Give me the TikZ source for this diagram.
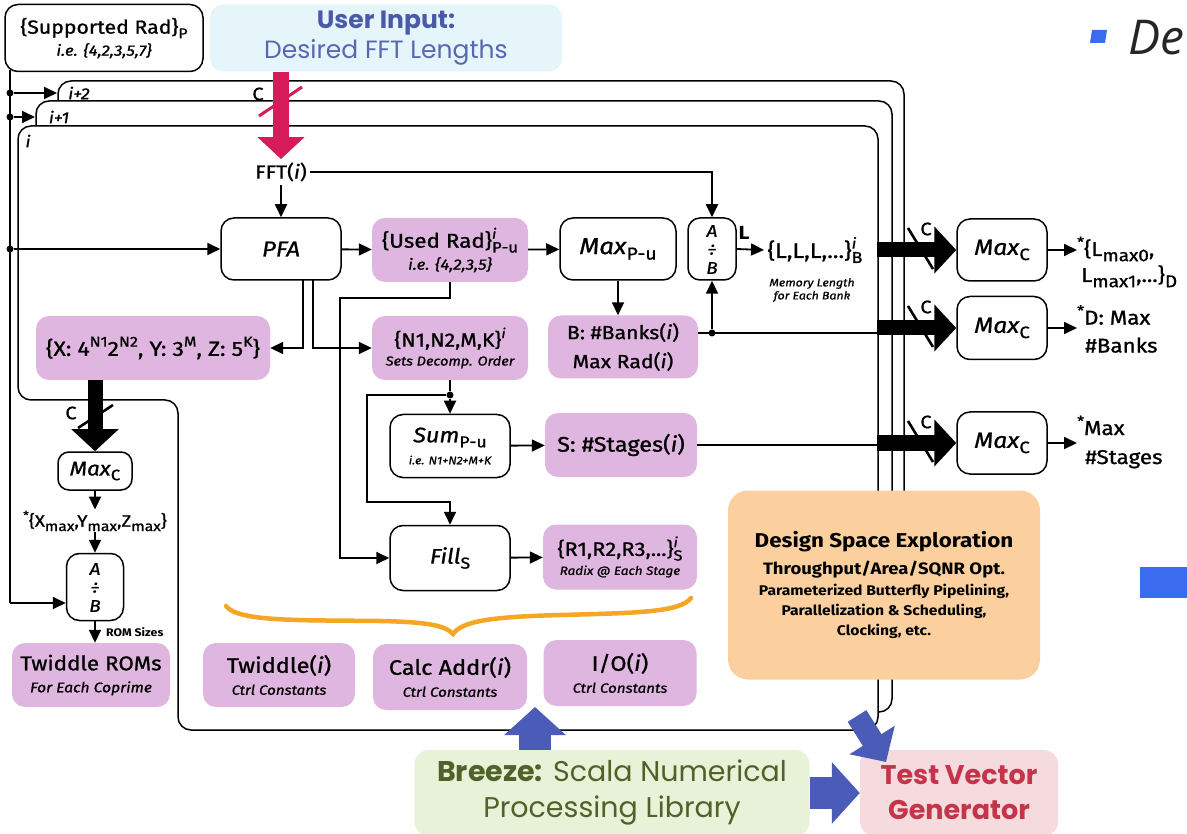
\documentclass[tikz,border=0pt]{standalone}
\usepackage{fontspec}
\usepackage{graphicx}
\setmainfont{Fira Sans}[FakeStretch=1.12,
  UprightFeatures={FakeBold=1}, ItalicFeatures={FakeBold=1}]
\newfontfamily\geo{Poppins}
\newfontfamily\slide{Open Sans}
\usetikzlibrary{arrows.meta,backgrounds}

\definecolor{boxpink}{RGB}{223,182,223}
\definecolor{inblue}{RGB}{230,245,250}
\definecolor{intext}{RGB}{75,90,168}
\definecolor{intextl}{RGB}{88,104,176}
\definecolor{crim}{RGB}{214,26,90}
\definecolor{bracec}{RGB}{245,166,35}
\definecolor{dse}{RGB}{251,208,158}
\definecolor{brz}{RGB}{232,242,216}
\definecolor{brztext}{RGB}{80,98,42}
\definecolor{tvg}{RGB}{245,218,222}
\definecolor{tvgtext}{RGB}{196,52,74}
\definecolor{flowblue}{RGB}{74,92,184}
\definecolor{bullet}{RGB}{59,108,240}

% small raised / lowered indices in text
\newcommand\dn[1]{\raisebox{-0.45ex}{\scalebox{0.75}{#1}}}
\newcommand\dnb[1]{\raisebox{-0.5ex}{\scalebox{0.85}{#1}}}
\newcommand\up[1]{\raisebox{0.85ex}{\scalebox{0.7}{#1}}}
\newcommand\ud[2]{\makebox[0pt][l]{\up{#1}}\dn{#2}}
\newcommand\fs[2]{\fontsize{#1}{#2}\selectfont}

\begin{document}
\begin{tikzpicture}[x=1pt,y=-1pt,
  wbox/.style={draw, line width=1.5pt, fill=white, rounded corners=13pt, inner sep=0pt, align=center},
  pbox/.style={fill=boxpink, rounded corners=13pt, inner sep=0pt, align=center},
  conn/.style={line width=1.8pt},
  arr/.style={conn, -{Triangle[length=13pt,width=12pt]}},
  bus/.style={line width=15pt, -{Triangle[length=22pt,width=46pt]}},
  busslash/.style={line width=2.6pt},
  junction/.style={circle, fill=black, inner sep=0pt, minimum size=7pt},
  frameline/.style={line width=1.5pt, rounded corners=13pt},
  flow/.style={color=flowblue, line width=32pt, -{Triangle[length=28pt,width=60pt]}},
  frametag/.style={font=\itshape\fs{16}{16}, inner sep=0pt},
  clabel/.style={font=\fs{18}{18}, inner sep=0pt},
  divglyph/.style={font=\itshape\fs{17}{17}, inner sep=0pt}
]
\useasboundingbox (0,0) rectangle (1187,834);
\clip (0,0) rectangle (1187,834);

% ---------- inputs ----------
\node[wbox, minimum width=198pt, minimum height=67pt, font=\fs{19}{21}] (sup) at (104,38)
  {\{Supported Rad\}\dn{P}\\[1pt]{\fs{15}{17}\itshape i.e. \{4,2,3,5,7\}}};
\node[fill=inblue, rounded corners=13pt, minimum width=352pt, minimum height=67pt, align=center,
      font=\geo\fs{25}{30}] (user) at (386,38)
  {{\bfseries\color{intext}User Input:}\\{\color{intextl}Desired FFT Lengths}};

% ---------- per-length pipeline ----------
\node[font=\fs{19}{21}] (fft) at (281,172) {FFT(\textit{i})};
\node[wbox, minimum width=120pt, minimum height=62pt, font=\itshape\fs{21.5}{22}] (pfa) at (281,249) {PFA};
\node[pbox, minimum width=156pt, minimum height=64pt, font=\fs{20}{22}] (used) at (450,250)
  {\{Used Rad\}\ud{\textit{i}}{P-u}\\[0pt]{\fs{15}{17}\itshape i.e. \{4,2,3,5\}}};
\node[wbox, minimum width=116pt, minimum height=62pt, font=\fs{23}{22}] (maxpu) at (618,249) {\textit{Max}\dn{P-u}};
\node[wbox, minimum width=48pt, minimum height=62pt, rounded corners=12pt] (div1) at (712,249) {};
\node[divglyph] (d1a) at (712,231) {A};
\node[divglyph] (d1b) at (712,250) {÷};
\node[divglyph] (d1c) at (712,268) {B};
\node[font=\fs{21}{22}] (lset) at (815,250) {\{L,L,L,...\}\ud{\textit{i}}{B}};
\node[font=\itshape\fs{11}{13}, align=center] (memlen) at (812,290) {Memory Length\\for Each Bank};
\node[pbox, minimum width=150pt, minimum height=63pt, font=\fs{19}{29}] (bbox) at (623,347)
  {B: \#Banks(\textit{i})\\Max Rad(\textit{i})};
\node[pbox, minimum width=234pt, minimum height=64pt, font=\fs{20.5}{21}] (xbox) at (153,348)
  {\{X: 4\up{N1}2\up{N2}, Y: 3\up{M}, Z: 5\up{K}\}};
\node[pbox, minimum width=156pt, minimum height=64pt, font=\fs{19}{21}] (nbox) at (450,348)
  {\{N1,N2,M,K\}\up{\textit{i}}\\[-2pt]{\fs{13}{15}\itshape Sets Decomp. Order}};
\node[wbox, minimum width=120pt, minimum height=63pt, font=\fs{21}{22}] (sum) at (450,446)
  {\textit{Sum}\dn{P-u}\\[0pt]{\fs{11}{12}\itshape i.e. N1+N2+M+K}};
\node[pbox, minimum width=152pt, minimum height=64pt, font=\fs{21}{22}] (sbox) at (621,445) {S: \#Stages(\textit{i})};
\node[wbox, minimum width=120pt, minimum height=65pt, font=\fs{21}{22}] (fill) at (450,558) {\textit{Fill}\dn{S}};
\node[pbox, minimum width=154pt, minimum height=65pt, font=\fs{19.5}{20}] (rbox) at (620,557)
  {\{R1,R2,R3,...\}\ud{\textit{i}}{S}\\[-1pt]{\fs{12}{14}\itshape Radix @ Each Stage}};

% ---------- maxima over all lengths ----------
\node[wbox, minimum width=90pt, minimum height=62pt, font=\fs{22}{22}] (maxc1) at (1002,250) {\textit{Max}\dn{C}};
\node[wbox, minimum width=90pt, minimum height=63pt, font=\fs{22}{22}] (maxc2) at (1002,328) {\textit{Max}\dn{C}};
\node[wbox, minimum width=90pt, minimum height=62pt, font=\fs{22}{22}] (maxc3) at (1002,443) {\textit{Max}\dn{C}};
\node[anchor=west, align=left, font=\fs{20}{26}, inner sep=0pt] (out1) at (1077,262)
  {\up{*}\{L\dnb{max0},\\\hspace*{4pt}L\dnb{max1},...\}\dnb{D}};
\node[anchor=west, align=left, font=\fs{20}{28}, inner sep=0pt] (out2) at (1077,329)
  {\up{*}D: Max\\\hspace*{8pt}\#Banks};
\node[anchor=west, align=left, font=\fs{20}{29}, inner sep=0pt] (out3) at (1077,442)
  {\up{*}Max\\\hspace*{8pt}\#Stages};

% ---------- twiddle ROM column ----------
\node[wbox, minimum width=74pt, minimum height=38pt, rounded corners=11pt, font=\fs{20}{20}] (maxcs) at (95,471) {\textit{Max}\dn{C}};
\node[font=\fs{16.5}{16}, inner sep=1pt] (xyz) at (95,521) {\up{*}\{X\dnb{max},Y\dnb{max},Z\dnb{max}\}};
\node[wbox, minimum width=57pt, minimum height=67pt, rounded corners=13pt] (div2) at (95,587) {};
\node[divglyph] (d2a) at (95,569) {A};
\node[divglyph] (d2b) at (95,588) {÷};
\node[divglyph] (d2c) at (95,606) {B};
\node[anchor=west, font=\bfseries\fs{11}{11}, inner sep=0pt] (romsz) at (106,632) {ROM Sizes};
\node[pbox, minimum width=158pt, minimum height=64pt, font=\fs{20}{22}] (twr) at (91,675)
  {Twiddle ROMs\\[0pt]{\fs{14}{16}\itshape For Each Coprime}};

% ---------- control constants ----------
\node[pbox, minimum width=152pt, minimum height=64pt, font=\fs{21}{22}] (tw) at (279,675)
  {Twiddle(\textit{i})\\[0pt]{\fs{13.5}{15}\itshape Ctrl Constants}};
\node[pbox, minimum width=154pt, minimum height=66pt, font=\fs{21}{22}] (ca) at (450,677)
  {Calc Addr(\textit{i})\\[0pt]{\fs{13.5}{15}\itshape Ctrl Constants}};
\node[pbox, minimum width=153pt, minimum height=66pt, font=\fs{21}{22}] (io) at (620,673)
  {I/O(\textit{i})\\[0pt]{\fs{13.5}{15}\itshape Ctrl Constants}};

% ---------- exploration and tools ----------
\node[fill=dse, rounded corners=20pt, minimum width=312pt, minimum height=189pt, align=center,
      font=\bfseries\fs{14}{20}] (dse) at (884,585)
  {{\fs{20}{20}Design Space Exploration}\\[7pt]
   {\fs{16.5}{18}Throughput/Area/SQNR Opt.}\\[1pt]
   Parameterized Butterfly Pipelining,\\[0pt]Parallelization \& Scheduling,\\[0pt]Clocking, etc.};
\node[fill=brz, rounded corners=14pt, minimum width=395pt, minimum height=86pt, align=center,
      font=\geo\fs{28.5}{36}, text=brztext] (brz) at (612,793)
  {\textbf{Breeze:} Scala Numerical\\Processing Library};
\node[fill=tvg, rounded corners=14pt, minimum width=198pt, minimum height=86pt, align=center,
      font=\geo\bfseries\fs{27}{35}, text=tvgtext] (tvg) at (959,793)
  {Test Vector\\Generator};

% ---------- slide leftovers at the right edge ----------
\fill[bullet] (1092,30) -- (1107,30) -- (1105,43) -- (1090,43) -- cycle;
\node[anchor=west, font=\slide\itshape\fs{48}{48}, text=black!85, inner sep=0pt] (de) at (1128,38) {De};
\fill[bullet] (1140,567) rectangle (1187,598);

% ---------- nested per-length frames ----------
\begin{pgfonlayer}{background}
\draw[frameline] (58,100) -- (58,81) -- (904,81) -- (904,500);
\draw[frameline] (36,126) -- (36,101) -- (892,101) -- (892,712) -- (878,712);
\draw[frameline] (18,300) -- (18,126) -- (878,126) -- (878,730) -- (178,730) -- (178,400) -- (18,400) -- cycle;
\end{pgfonlayer}
\node[frametag] (t2) at (79,93) {i+2};
\node[frametag] (t1) at (59,117) {i+1};
\node[frametag] (t0) at (28,141) {i};

% ---------- radix set distribution ----------
\coordinate (vtop) at (10,70);
\coordinate (vbot) at (10,603);
\node[junction] (ja) at (10,93) {};
\node[junction] (jb) at (10,117) {};
\node[junction] (jc) at (10,249) {};
\coordinate (f2) at (57,93);
\coordinate (f1) at (35,117);
\draw[conn] (vtop) -- (vbot);
\draw[arr] (vbot) -- (vbot -| div2.west);
\draw[arr] (ja) -- (f2);
\draw[arr] (jb) -- (f1);
\draw[arr] (jc) -- (pfa.west);

% ---------- user input ----------
\draw[crim, line width=16pt, -{Triangle[length=22pt,width=46pt]}] (user.south -| fft.north) -- (fft.north);
\draw[crim, line width=3pt] (259,116) -- (302,87);
\node[clabel] (cin) at (258,94) {C};

% ---------- connectors of the pipeline ----------
\draw[arr] (fft) -- (pfa);
\draw[arr] (fft.east) -- (fft.east -| div1.north) -- (div1.north);
\draw[arr] (pfa) -- (used);
\draw[arr] (used) -- (maxpu);
\draw[arr] (maxpu.south) -- (maxpu.south |- bbox.north);
\draw[arr] (div1.east) -- (lset.west);
\node[font=\bfseries\fs{19}{19}, inner sep=0pt] (lbl) at (744,233) {L};
\coordinate (ps1) at (303,280);
\coordinate (ps2) at (313,280);
\draw[arr] (ps1) |- (xbox.east);
\draw[arr] (ps2) |- (nbox.west);
\coordinate (u1) at (450,298);
\coordinate (u2) at (340,298);
\draw[arr] (used.south) -- (u1) -- (u2) |- (fill.west);
\node[junction] (jn) at (450,395) {};
\coordinate (n1) at (367,395);
\coordinate (n2) at (367,502);
\draw[conn] (nbox.south) -- (jn);
\draw[arr] (jn) -- (sum.north);
\draw[arr] (jn) -- (n1) -- (n2) -| (fill.north);
\draw[arr] (sum) -- (sbox);
\draw[arr] (fill) -- (rbox);
\coordinate (bb) at ([yshift=14pt]bbox.east);
\node[junction] (jd) at (bb -| div1.south) {};
\draw[conn] (bb) -- (878,333);
\draw[arr] (jd) -- (div1.south);
\draw[conn] (sbox.east) -- (878,445);

% ---------- buses to the maxima ----------
\coordinate (b1) at (877,250);
\coordinate (b2) at (877,328);
\coordinate (b3) at (877,443);
\draw[bus] (b1) -- (maxc1.west);
\draw[bus] (b2) -- (maxc2.west);
\draw[bus] (b3) -- (maxc3.west);
\foreach \y in {250,328,443}{
  \draw[busslash] (908,\y-22) -- (933,\y+19);
  \node[clabel] at (926,\y-21) {C};
}
\draw[arr] (maxc1.east) -- (maxc1.east -| out1.west);
\draw[arr] (maxc2.east) -- (maxc2.east -| out2.west);
\draw[arr] (maxc3.east) -- (maxc3.east -| out3.west);

% ---------- twiddle column ----------
\coordinate (xb) at (95,380);
\draw[bus] (xb) -- (maxcs.north);
\draw[busslash] (78,428) -- (113,405);
\node[clabel] (cx) at (71,413) {C};
\draw[arr] (maxcs.south) -- (xyz.north);
\draw[arr] (xyz.south) -- (div2.north);
\draw[arr] (div2.south) -- (div2.south |- twr.north);

% ---------- brace over the control constants ----------
\draw[bracec, line width=4.5pt, line cap=round]
  (226,606) .. controls (238,622) and (300,620) .. (380,621)
  .. controls (430,622) and (446,626) .. (453,634)
  .. controls (462,622) and (485,617) .. (560,615)
  .. controls (640,613) and (680,612) .. (691,598);

% ---------- tool flow ----------
\coordinate (gap) at (535,707);
\draw[flow] (brz.north -| gap) -- (gap);
\draw[flow] (brz.east) -- (tvg.west);
\coordinate (dtail) at (857,716);
\coordinate (dtip) at (886,762);
\draw[flow, line width=22pt, -{Triangle[length=26pt,width=52pt]}] (dtail) -- (dtip);
\end{tikzpicture}
\end{document}
